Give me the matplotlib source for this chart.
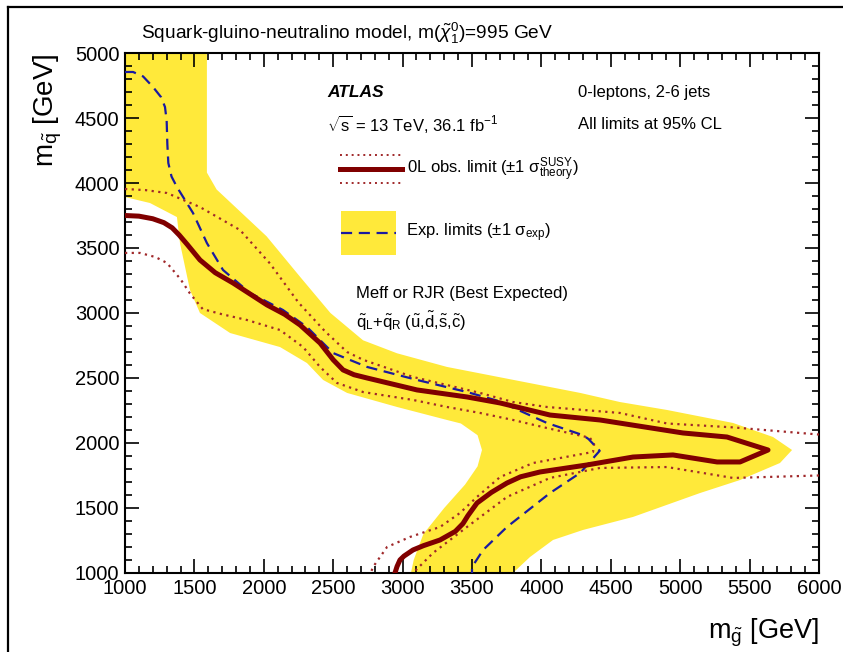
import matplotlib
matplotlib.use("Agg")
import matplotlib.pyplot as plt
from matplotlib.lines import Line2D
from matplotlib.patches import Rectangle

plt.rcParams['font.family'] = ['Liberation Sans', 'DejaVu Sans']
plt.rcParams['mathtext.fontset'] = 'custom'
plt.rcParams['mathtext.rm'] = 'Liberation Sans'
plt.rcParams['mathtext.it'] = 'Liberation Sans:italic'
plt.rcParams['mathtext.bf'] = 'Liberation Sans:bold'

# Observed limit (solid)
obs_x = [1000, 1100, 1200, 1280, 1340, 1390, 1450, 1540, 1650, 1778, 2023, 2150, 2261, 2405,
         2500, 2571, 2650, 2744, 3104, 3464, 3702, 4062, 4422, 5020, 5337, 5633, 5431, 5266,
         4948, 4660, 4329, 3990, 3850, 3752, 3640, 3536, 3470, 3435, 3380, 3270, 3150, 3075,
         3010, 2981, 2960, 2945]
obs_y = [3750, 3745, 3725, 3695, 3655, 3600, 3525, 3408, 3310, 3231, 3062, 2990, 2908, 2769,
         2640, 2562, 2525, 2500, 2408, 2354, 2308, 2215, 2177, 2077, 2046, 1946, 1854, 1854,
         1908, 1892, 1831, 1777, 1740, 1692, 1620, 1538, 1440, 1380, 1320, 1254, 1210, 1177,
         1130, 1100, 1050, 1000]

# Observed +1 sigma theory (dotted)
obs_up_x = [1000, 1150, 1302, 1540, 1829, 2045, 2250, 2440, 2600, 2715, 3075, 3558, 3796,
            4040, 4566, 4905, 5381, 6000]
obs_up_y = [3954, 3945, 3923, 3815, 3638, 3380, 3080, 2860, 2700, 2640, 2508, 2385, 2315,
            2277, 2231, 2150, 2120, 2065]
obs_up2_x = [6000, 5381, 4905, 4422, 4062, 3752, 3464, 3219, 3075]
obs_up2_y = [1750, 1731, 1815, 1808, 1731, 1585, 1354, 1154, 1000]

# Observed -1 sigma theory (dotted)
obs_dn_x = [1000, 1108, 1220, 1302, 1400, 1468, 1560, 1700, 1879, 2117, 2283, 2405, 2527,
            2715, 3075, 3320, 3558, 3796, 4040, 4350, 4380, 4372, 3940, 3702, 3536, 3414,
            3270, 3053, 2888, 2787, 2770]
obs_dn_y = [3462, 3462, 3430, 3385, 3260, 3150, 3030, 2990, 2946, 2869, 2738, 2585, 2462,
            2392, 2331, 2277, 2231, 2177, 2115, 2040, 1990, 1931, 1846, 1738, 1585, 1462,
            1354, 1277, 1200, 1046, 1000]

# Expected limit (dashed)
exp_x = [1000, 1058, 1130, 1202, 1260, 1288, 1300, 1305, 1312, 1335, 1374, 1490, 1590, 1706,
         1900, 2138, 2311, 2499, 2744, 3104, 3464, 3700, 3800, 4040, 4300, 4340, 4420, 4280,
         4062, 3752, 3580, 3500, 3500]
exp_y = [4854, 4854, 4820, 4738, 4660, 4585, 4480, 4300, 4154, 4050, 3969, 3769, 3538, 3331,
         3154, 3023, 2892, 2692, 2585, 2485, 2392, 2320, 2270, 2154, 2060, 2030, 1940, 1770,
         1615, 1354, 1177, 1046, 1000]

# Expected +-1 sigma band (outline)
band_x = [1000, 1590, 1590, 1660, 2020, 2260, 2480, 2715, 2960, 3320, 3800, 4280, 4566, 4905,
          5381, 5669, 5806, 5719, 5431, 5143, 4660, 4300, 4084, 3918, 3795, 3060, 3080, 3150,
          3300, 3450, 3540, 3572, 3540, 3420, 3320, 2960, 2600, 2427, 2311, 2117, 1757, 1540,
          1468, 1396, 1374, 1180, 1000]
band_y = [5000, 5000, 4080, 3950, 3590, 3280, 3000, 2790, 2690, 2585, 2485, 2385, 2315, 2254,
          2154, 2046, 1946, 1846, 1715, 1615, 1431, 1331, 1254, 1123, 1000, 1000, 1100, 1300,
          1500, 1680, 1820, 1946, 2060, 2150, 2177, 2277, 2385, 2485, 2615, 2738, 2846, 3000,
          3177, 3538, 3738, 3846, 3892]

yellow = '#ffe93a'
red = '#800000'
dot_red = '#a0282a'
blue = '#1a1aa0'

fig = plt.figure(figsize=(8.43, 6.52), dpi=100)
ax = fig.add_axes([0.1483, 0.1212, 0.8232, 0.7975])

ax.fill(band_x, band_y, color=yellow, lw=0, zorder=1)
ax.plot(obs_up_x, obs_up_y, color=dot_red, lw=1.6, ls=(0, (1, 2)), zorder=3)
ax.plot(obs_up2_x, obs_up2_y, color=dot_red, lw=1.6, ls=(0, (1, 2)), zorder=3)
ax.plot(obs_dn_x, obs_dn_y, color=dot_red, lw=1.6, ls=(0, (1, 2)), zorder=3)
ax.plot(exp_x, exp_y, color=blue, lw=1.6, ls=(0, (5, 3)), zorder=4)
ax.plot(obs_x, obs_y, color=red, lw=3.6, zorder=5, solid_joinstyle='round')

ax.set_xlim(1000, 6000)
ax.set_ylim(1000, 5000)
ax.set_xticks(range(1000, 6001, 500))
ax.set_yticks(range(1000, 5001, 500))
ax.set_xticks(range(1000, 6001, 100), minor=True)
ax.set_yticks(range(1000, 5001, 100), minor=True)
ax.tick_params(which='both', direction='in', top=True, right=True, width=1.2,
               labelsize=14.5, pad=4)
ax.tick_params(which='major', length=10)
ax.tick_params(which='minor', length=5)
for s in ax.spines.values():
    s.set_linewidth(1.5)

ax.set_xlabel(r'm$_{\tilde{\mathrm{g}}}$ [GeV]', fontsize=19.5, loc='right', labelpad=14)
ax.set_ylabel(r'm$_{\tilde{\mathrm{q}}}$ [GeV]', fontsize=20, loc='top', labelpad=8)

fig.text(0.167, 0.949, r'Squark-gluino-neutralino model, m($\tilde{\chi}^{0}_{1}$)=995 GeV',
         fontsize=13.8, va='center')

# Labels inside the plot
ax.text(0.291, 0.925, 'ATLAS', transform=ax.transAxes, fontsize=12.5,
        fontweight='bold', fontstyle='italic', va='center')
ax.text(0.291, 0.863, r'$\sqrt{\mathrm{s}}$ = 13 TeV, 36.1 fb$^{-1}$', transform=ax.transAxes,
        fontsize=12, va='center')
ax.text(0.653, 0.925, '0-leptons, 2-6 jets', transform=ax.transAxes, fontsize=12, va='center')
ax.text(0.653, 0.863, 'All limits at 95% CL', transform=ax.transAxes, fontsize=12, va='center')

# Legend drawn by hand (ROOT style)
ax.plot([0.310, 0.399], [0.804, 0.804], transform=ax.transAxes, color=dot_red, lw=1.4,
        ls=(0, (1, 2)), zorder=6)
ax.plot([0.310, 0.399], [0.750, 0.750], transform=ax.transAxes, color=dot_red, lw=1.4,
        ls=(0, (1, 2)), zorder=6)
ax.plot([0.310, 0.399], [0.777, 0.777], transform=ax.transAxes, color=red, lw=3.6, zorder=6)
ax.text(0.406, 0.775, r'0L obs. limit (±1 σ$^{\mathrm{SUSY}}_{\mathrm{theory}}$)',
        transform=ax.transAxes, fontsize=12, va='center')
ax.add_patch(Rectangle((0.311, 0.612), 0.079, 0.084, transform=ax.transAxes,
                       color=yellow, lw=0, zorder=6))
ax.plot([0.311, 0.390], [0.654, 0.654], transform=ax.transAxes, color=blue, lw=1.6,
        ls=(0, (5, 3)), zorder=7)
ax.text(0.405, 0.654, r'Exp. limits (±1 σ$_{\mathrm{exp}}$)',
        transform=ax.transAxes, fontsize=12, va='center')
ax.text(0.333, 0.538, 'Meff or RJR (Best Expected)', transform=ax.transAxes,
        fontsize=12, va='center')
ax.text(0.333, 0.483,
        r'$\tilde{\mathrm{q}}_{\mathrm{L}}$+$\tilde{\mathrm{q}}_{\mathrm{R}}$ '
        r'($\tilde{\mathrm{u}}$,$\tilde{\mathrm{d}}$,$\tilde{\mathrm{s}}$,$\tilde{\mathrm{c}}$)',
        transform=ax.transAxes, fontsize=12, va='center')

# outer frame (top and left edges)
fig.add_artist(Line2D([0.0095, 1.0], [0.989, 0.989], color='black', lw=1.6))
fig.add_artist(Line2D([0.0095, 0.0095], [0.0, 0.989], color='black', lw=1.6))

fig.savefig('out.png', dpi=100)
